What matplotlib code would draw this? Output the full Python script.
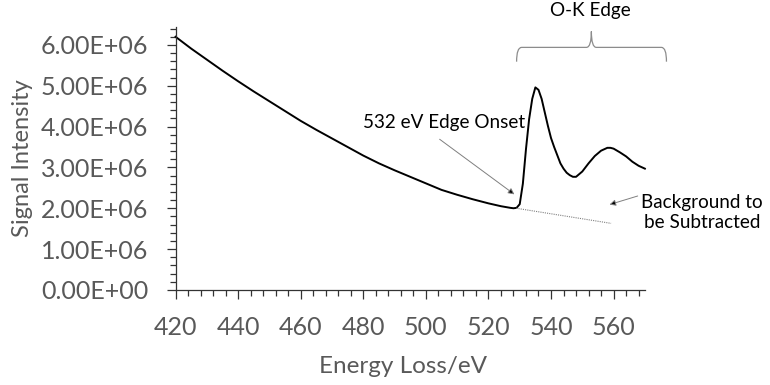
import matplotlib
matplotlib.use('Agg')
import matplotlib.pyplot as plt
from matplotlib.ticker import MultipleLocator, FuncFormatter
from matplotlib.path import Path
from matplotlib.patches import PathPatch

plt.rcParams['font.family'] = ['Lato', 'DejaVu Sans']

# EELS spectrum (energy loss in eV, intensity in 1e6 counts)
energy = [420, 425, 430, 435, 440, 445, 450, 455, 460, 465, 470, 475, 480,
          485, 490, 495, 500, 505, 510, 515, 520, 524, 527, 528, 529, 530,
          531, 532, 533, 534, 535, 536, 537, 538, 539, 540, 541, 542, 543,
          544, 545, 546, 547, 548, 550, 552, 554, 556, 558, 559, 560, 562,
          564, 566, 568, 570]
signal = [6.20, 5.91, 5.64, 5.37, 5.11, 4.86, 4.62, 4.38, 4.14, 3.92, 3.71,
          3.50, 3.29, 3.10, 2.93, 2.77, 2.61, 2.45, 2.33, 2.22, 2.12, 2.05,
          2.01, 2.00, 2.01, 2.10, 2.60, 3.45, 4.18, 4.68, 4.96, 4.90, 4.68,
          4.35, 4.02, 3.72, 3.50, 3.30, 3.10, 2.97, 2.87, 2.81, 2.77, 2.77,
          2.90, 3.10, 3.28, 3.41, 3.48, 3.48, 3.46, 3.37, 3.27, 3.14, 3.04,
          2.97]
signal = [s * 1e6 for s in signal]

# extrapolated background under the edge
bg_energy = [528.9, 559.2]
bg_signal = [2.00e6, 1.63e6]

grey = '#595959'

fig = plt.figure(figsize=(7.7, 3.85), dpi=100)
ax = fig.add_axes([0.228, 0.247, 0.6095, 0.684])

ax.plot(energy, signal, color='black', lw=1.4, clip_on=False)
ax.plot(bg_energy, bg_signal, color='#808080', lw=0.8, ls=(0, (1, 1)))

ax.set_xlim(420, 570)
ax.set_ylim(0, 6.45e6)
ax.xaxis.set_major_locator(MultipleLocator(20))
ax.xaxis.set_minor_locator(MultipleLocator(4))
ax.yaxis.set_major_locator(MultipleLocator(1e6))
ax.yaxis.set_minor_locator(MultipleLocator(2e5))
ax.yaxis.set_major_formatter(FuncFormatter(lambda v, p: '{:.2E}'.format(v)))

for s in ['top', 'right']:
    ax.spines[s].set_visible(False)
for s in ['left', 'bottom']:
    ax.spines[s].set_color('#333333')
    ax.spines[s].set_linewidth(0.9)

ax.tick_params(which='major', length=6.5, width=0.9, color='#333333',
               labelsize=18, labelcolor=grey, direction='out')
ax.tick_params(which='minor', length=4, width=0.9, color='#333333', direction='out')
ax.tick_params(axis='y', which='major', pad=13)
ax.tick_params(axis='x', which='major', pad=12)

ax.set_ylabel('Signal Intensity', fontsize=17, color=grey)
ax.yaxis.set_label_coords(-0.303, 0.5)
ax.set_xlabel('Energy Loss/eV', fontsize=17.5, color=grey)
ax.xaxis.label.set_va('center')
ax.xaxis.set_label_coords(0.484, -0.29)

# annotations
ax.annotate('', xy=(528.3, 2.34e6), xytext=(504.4, 3.69e6),
            arrowprops=dict(arrowstyle='-|>', lw=0.7, ec='#7f7f7f', fc='black',
                            mutation_scale=9, shrinkA=0, shrinkB=0))
ax.text(505.9, 4.11e6, '532 eV Edge Onset', fontsize=13.6, ha='center', va='center')

ax.annotate('', xy=(558.7, 2.09e6), xytext=(567.7, 2.30e6),
            arrowprops=dict(arrowstyle='-|>', lw=0.7, ec='#7f7f7f', fc='black',
                            mutation_scale=9, shrinkA=0, shrinkB=0),
            annotation_clip=False)
ax.text(588.3, 1.90e6, 'Background to\nbe Subtracted', fontsize=13.6,
        ha='center', va='center', linespacing=1.25)

ax.text(552.6, 6.85e6, 'O-K Edge', fontsize=13.6, ha='center', va='center')

# curly brace over the edge region
xl, xc, xr = 529.0, 552.9, 576.9
yb, ym, yt = 5.59e6, 5.94e6, 6.33e6
r = 1.6
verts = [(xl, yb), (xl, ym), (xl + r, ym),
         (xc - r, ym), (xc, ym), (xc, yt),
         (xc, ym), (xc + r, ym),
         (xr - r, ym), (xr, ym), (xr, yb)]
codes = [Path.MOVETO, Path.CURVE3, Path.CURVE3,
         Path.LINETO, Path.CURVE3, Path.CURVE3,
         Path.CURVE3, Path.CURVE3,
         Path.LINETO, Path.CURVE3, Path.CURVE3]
ax.add_patch(PathPatch(Path(verts, codes), fill=False, ec='#8c8c8c', lw=0.9,
                       clip_on=False))

fig.savefig('out.png', dpi=100)
